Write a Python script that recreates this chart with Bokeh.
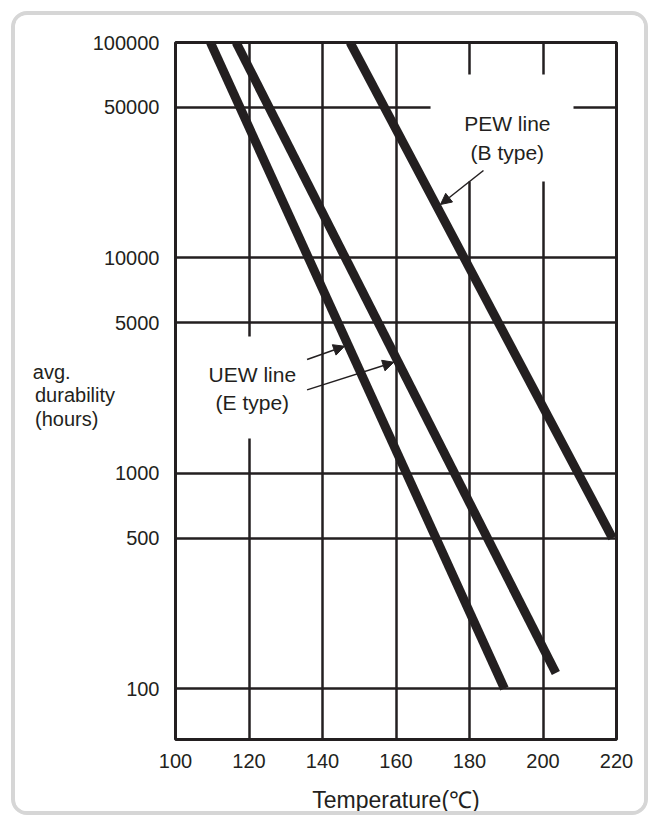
from bokeh.plotting import figure
from bokeh.models import (FixedTicker, PrintfTickFormatter, BoxAnnotation, Label,
                          Arrow, NormalHead, ColumnDataSource)
from bokeh.embed import file_html
from bokeh.resources import INLINE

# ---- data ----
x_ticks = [100, 120, 140, 160, 180, 200, 220]
y_ticks = [100, 500, 1000, 5000, 10000, 50000, 100000]

uew1_temp = [109.5, 189.5]
uew1_hours = [100000, 100]
uew2_temp = [116.5, 203.5]
uew2_hours = [100000, 118]
pew_temp = [147.5, 218.9]
pew_hours = [100000, 500]

y_title_lines = ["avg.", "durability", "(hours)"]
# vertical anchors (in axis units) for the three lines of the y title
y_title_at = [2965, 2319, 1794]
y_title_pad = [16, 8, 11]   # non-breaking spaces used to left-align the lines

INK = "#231f20"
FONT = "Liberation Sans"
NBSP = "\u00a0"

p = figure(width=637, height=804, x_range=(100, 220), y_range=(58, 100000),
           y_axis_type="log", output_backend="svg", toolbar_location=None,
           min_border_left=160, min_border_right=36, min_border_top=27,
           min_border_bottom=80)
p.styles = {"border": "4px solid #d6d6d6", "border-radius": "16px",
            "margin-left": "11px", "margin-top": "11px", "overflow": "hidden"}

p.background_fill_color = "white"
p.border_fill_color = "white"
p.outline_line_color = INK
p.outline_line_width = 3
p.outline_line_alpha = 1

p.xaxis.ticker = FixedTicker(ticks=x_ticks)
p.yaxis.ticker = FixedTicker(ticks=sorted(y_ticks + y_title_at))
p.xgrid.ticker = FixedTicker(ticks=x_ticks)
p.ygrid.ticker = FixedTicker(ticks=y_ticks)
p.xaxis.formatter = PrintfTickFormatter(format="%d")
p.yaxis.formatter = PrintfTickFormatter(format="%d")
p.yaxis.major_label_overrides = {
    v: t + NBSP * n for v, t, n in zip(y_title_at, y_title_lines, y_title_pad)
}

for ax in (p.xaxis, p.yaxis):
    ax.axis_line_color = None
    ax.major_tick_line_color = None
    ax.minor_tick_line_color = None
    ax.major_tick_out = 0
    ax.major_tick_in = 0
    ax.major_label_text_font = FONT
    ax.major_label_text_font_size = "20px"
    ax.major_label_text_color = INK
p.xaxis.major_label_standoff = 14
p.yaxis.major_label_standoff = 16

p.xaxis.axis_label = "Temperature(℃)"
p.xaxis.axis_label_text_font = FONT
p.xaxis.axis_label_text_font_size = "23px"
p.xaxis.axis_label_text_font_style = "normal"
p.xaxis.axis_label_text_color = INK
p.xaxis.axis_label_standoff = 16

p.grid.grid_line_color = INK
p.grid.grid_line_width = 2.5
p.grid.grid_line_alpha = 1

# white patches behind the callout texts (gaps in the grid)
p.add_layout(BoxAnnotation(left=169.4, right=208.3, bottom=22620, top=70970,
                           fill_color="white", fill_alpha=1, line_color=None,
                           level="underlay"))
p.add_layout(BoxAnnotation(left=108.2, right=134.0, bottom=1449, top=4312,
                           fill_color="white", fill_alpha=1, line_color=None,
                           level="underlay"))

for xs, ys in ((uew1_temp, uew1_hours), (uew2_temp, uew2_hours), (pew_temp, pew_hours)):
    src = ColumnDataSource(dict(x=xs, y=ys))
    p.line("x", "y", source=src, line_color=INK, line_width=9, line_cap="butt")

def lab(x, y, t):
    p.add_layout(Label(x=x, y=y, text=t, text_font=FONT, text_font_size="21px",
                       text_color=INK, text_align="center", text_baseline="middle"))

lab(190.3, 42050, "PEW line")
lab(190.3, 30830, "(B type)")
lab(120.9, 2871, "UEW line")
lab(120.9, 2136, "(E type)")

def arrow(x0, y0, x1, y1):
    p.add_layout(Arrow(end=NormalHead(size=11, fill_color=INK, line_color=INK),
                       x_start=x0, y_start=y0, x_end=x1, y_end=y1,
                       line_color=INK, line_width=1.5))

arrow(183.8, 25440, 172.1, 17690)
arrow(135.8, 3371, 146.0, 3887)
arrow(135.8, 2438, 159.4, 3276)

open("out.html", "w").write(file_html(p, INLINE))
